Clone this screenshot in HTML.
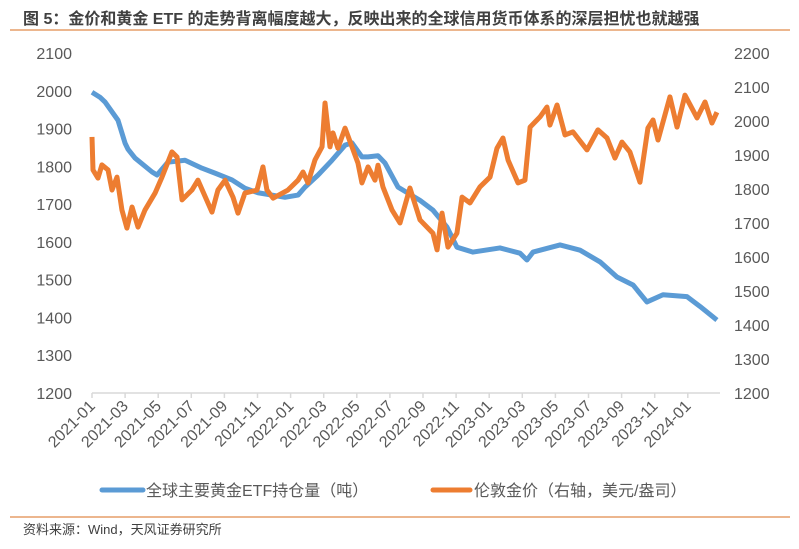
<!DOCTYPE html>
<html><head><meta charset="utf-8"><style>
body{margin:0;background:#fff;width:799px;height:544px;overflow:hidden;font-family:"Liberation Sans","Noto Sans CJK SC",sans-serif;}
</style></head><body>
<svg width="799" height="544" xmlns="http://www.w3.org/2000/svg" font-family="Liberation Sans, Noto Sans CJK SC, sans-serif">
<text x="23" y="24" font-size="16" font-weight="bold" fill="#404040">图 5：金价和黄金 ETF 的走势背离幅度越大，反映出来的全球信用货币体系的深层担忧也就越强</text>
<line x1="10" y1="30" x2="790" y2="30" stroke="#e08a4a" stroke-width="1.2"/>
<g id="axes"></g>
<g id="series"></g>
<g>
<line x1="102" y1="490" x2="143" y2="490" stroke="#5b9bd5" stroke-width="5" stroke-linecap="round"/>
<text x="146" y="496" font-size="16" fill="#595959">全球主要黄金ETF持仓量（吨）</text>
<line x1="433" y1="490" x2="470" y2="490" stroke="#ed7d31" stroke-width="5" stroke-linecap="round"/>
<text x="474" y="496" font-size="16" fill="#595959">伦敦金价（右轴，美元/盎司）</text>
</g>
<line x1="10" y1="517" x2="790" y2="517" stroke="#e08a4a" stroke-width="1.2"/>
<text x="23" y="534" font-size="13" fill="#404040">资料来源：Wind，天风证券研究所</text>
</svg>
<script>
const xLabels=["2021-01","2021-03","2021-05","2021-07","2021-09","2021-11","2022-01","2022-03","2022-05","2022-07","2022-09","2022-11","2023-01","2023-03","2023-05","2023-07","2023-09","2023-11","2024-01"];
const leftTicks=[1200,1300,1400,1500,1600,1700,1800,1900,2000,2100];
const rightTicks=[1200,1300,1400,1500,1600,1700,1800,1900,2000,2100,2200];
// month index (0 = 2021-01)
const etfMonths=[0,0.48,0.79,1.57,2.0,2.18,2.6,3.63,3.93,4.59,5.62,6.65,7.43,8.46,9.24,10.03,11.66,12.45,12.87,13.66,14.5,15.29,15.71,16.31,16.68,17.28,17.7,18.49,19.82,20.6,21.45,22.05,23.02,24.65,25.86,26.28,26.65,28.28,29.49,30.7,31.72,32.69,33.53,34.5,35.95,36.74,37.76];
const etfValues=[1996,1983,1970,1922,1861,1845,1822,1785,1777,1811,1816,1795,1782,1764,1742,1730,1718,1724,1745,1777,1816,1856,1862,1825,1825,1828,1809,1745,1710,1684,1639,1586,1573,1584,1570,1552,1573,1592,1578,1547,1507,1486,1441,1460,1455,1429,1393];
const goldMonths=[0,0.06,0.36,0.6,0.97,1.21,1.51,1.81,2.11,2.42,2.78,3.2,3.81,4.23,4.83,5.14,5.44,6.04,6.4,7.25,7.61,8.04,8.52,8.82,9.24,9.97,10.33,10.57,10.94,11.84,12.45,12.75,13.05,13.47,13.9,14.08,14.38,14.56,14.86,15.29,15.71,16.07,16.31,16.68,17.1,17.28,17.58,18.13,18.61,19.21,19.82,20.6,20.85,21.15,21.51,22.05,22.36,22.84,23.44,24.05,24.47,24.83,25.14,25.74,26.16,26.47,27.07,27.49,27.67,28.1,28.58,29.06,29.91,30.57,31.12,31.6,32.02,32.5,33.11,33.59,33.9,34.2,34.92,35.35,35.83,36.56,37.04,37.46,37.76];
const goldValues=[1953,1856,1832,1871,1856,1797,1835,1738,1685,1747,1688,1738,1788,1835,1909,1894,1768,1797,1826,1732,1797,1826,1776,1729,1788,1797,1865,1797,1773,1797,1826,1850,1818,1885,1924,2053,1924,1965,1920,1979,1924,1876,1818,1865,1826,1870,1806,1738,1700,1803,1709,1670,1621,1729,1629,1670,1776,1759,1806,1835,1920,1950,1885,1818,1826,1982,2012,2041,1988,2047,1959,1968,1915,1974,1950,1891,1938,1909,1820,1979,2003,1944,2071,1982,2076,2009,2056,1994,2026];
const NS="http://www.w3.org/2000/svg";
const X0=92,DX=16.55,YB=393,YT=53;
const xS=m=>X0+m*DX;
const yL=v=>YB-(v-1200)/(2100-1200)*(YB-YT);
const yR=v=>YB-(v-1200)/(2200-1200)*(YB-YT);
function mk(tag,attrs,parent){const e=document.createElementNS(NS,tag);for(const k in attrs)e.setAttribute(k,attrs[k]);parent.appendChild(e);return e;}
const axes=document.getElementById('axes');
const ax=mk('line',{x1:X0,y1:YB,x2:720,y2:YB,stroke:'#d9d9d9','stroke-width':1.5},axes);


leftTicks.forEach(v=>{const t=mk('text',{x:72,y:yL(v)+6,'font-size':16,fill:'#595959','text-anchor':'end'},axes);t.textContent=v;

});
rightTicks.forEach(v=>{const t=mk('text',{x:734,y:yR(v)+6,'font-size':16,fill:'#595959'},axes);t.textContent=v;

});
xLabels.forEach((l,i)=>{const x=xS(i*2);
const tk=mk('line',{x1:x,y1:YB,x2:x,y2:YB+5,stroke:'#d9d9d9','stroke-width':1.5},axes);


const t=mk('text',{x:x+4,y:YB+14,'font-size':16,fill:'#595959','text-anchor':'end',transform:`rotate(-45 ${x+4} ${YB+14})`},axes);t.textContent=l;

});
const ser=document.getElementById('series');
const pe=mk('polyline',{points:etfMonths.map((m,i)=>xS(m)+','+yL(etfValues[i])).join(' '),fill:'none',stroke:'#5b9bd5','stroke-width':5,'stroke-linejoin':'round'},ser);


const pg=mk('polyline',{points:goldMonths.map((m,i)=>xS(m)+','+yR(goldValues[i])).join(' '),fill:'none',stroke:'#ed7d31','stroke-width':5,'stroke-linejoin':'round'},ser);


</script>
</body></html>
